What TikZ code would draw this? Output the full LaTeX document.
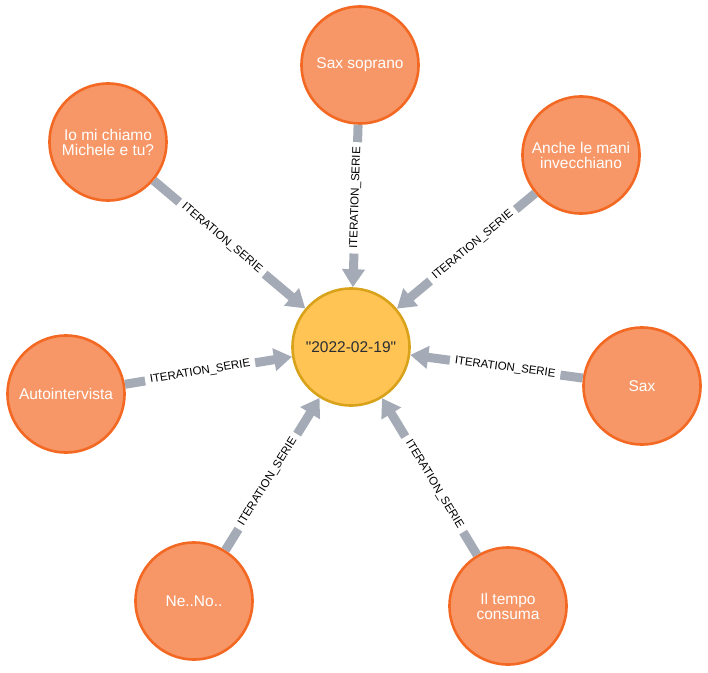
\documentclass[tikz,border=0pt]{standalone}
\usepackage{fontspec}
\setmainfont{Liberation Sans}[Ligatures=TeXOff]
\usetikzlibrary{positioning,arrows.meta}

\definecolor{epfill}{HTML}{F79767}
\definecolor{epborder}{HTML}{F36924}
\definecolor{dayfill}{HTML}{FFC454}
\definecolor{dayborder}{HTML}{D9A21B}
\definecolor{daytext}{HTML}{2A2C34}
\definecolor{relgray}{HTML}{A5ABB6}

\begin{document}
\begin{tikzpicture}[
    on grid,
    episode/.style={circle, draw=epborder, fill=epfill, line width=2.6pt, minimum size=117pt,
        inner sep=0pt, align=center, text=white, font=\fontsize{15.5}{15}\selectfont},
    day/.style={episode, draw=dayborder, fill=dayfill, text=daytext},
    serie/.style={draw=relgray, line width=9pt, -{Triangle[length=18pt,width=22pt]}},
    lbl/.style={sloped, pos=0.45, fill=white, inner xsep=5pt, inner ysep=2pt,
        text=black, font=\fontsize{11.5}{11}\selectfont}
]
    \useasboundingbox (-351pt,-325pt) rectangle (357pt,347pt);

    \node [day](d0219){"2022-02-19"};

    \node [episode, above right=282pt and 9pt of d0219](soprano){Sax soprano};
    \draw [serie] (soprano) -- node[lbl]{ITERATION\_SERIE} (d0219);

    \node [episode, above right=192pt and 230pt of d0219](mani){Anche le mani\\invecchiano};
    \draw [serie] (mani) -- node[lbl]{ITERATION\_SERIE} (d0219);

    \node [episode, below right=39pt and 291pt of d0219](sax){Sax};
    \draw [serie] (sax) -- node[lbl]{ITERATION\_SERIE} (d0219);

    \node [episode, below right=259pt and 157pt of d0219](tempo){Il tempo\\consuma};
    \draw [serie] (tempo) -- node[lbl]{ITERATION\_SERIE} (d0219);

    \node [episode, below left=254pt and 157pt of d0219](neno){Ne..No..};
    \draw [serie] (neno) -- node[lbl]{ITERATION\_SERIE} (d0219);

    \node [episode, below left=47pt and 285pt of d0219](auto){Autointervista};
    \draw [serie] (auto) -- node[lbl]{ITERATION\_SERIE} (d0219);

    \node [episode, above left=205pt and 243pt of d0219](michele){Io mi chiamo\\Michele e tu?};
    \draw [serie] (michele) -- node[lbl]{ITERATION\_SERIE} (d0219);

\end{tikzpicture}
\end{document}
